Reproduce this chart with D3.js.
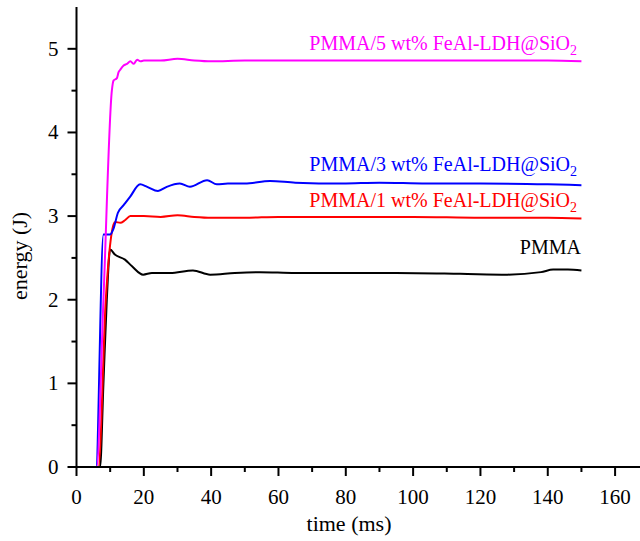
<!DOCTYPE html>
<html>
<head>
<meta charset="utf-8">
<script src="https://cdn.jsdelivr.net/npm/d3@7"></script>
<style>
  body { margin: 0; background: #fff; }
  text { font-family: "Liberation Serif", "DejaVu Serif", serif; }
</style>
</head>
<body>
<svg id="chart" width="640" height="541"></svg>
<script>
// values (time in ms, energy in J)
var pmmaT   = [0, 7, 8, 9, 10, 11.4, 14.4, 16.5, 19.8, 22.4, 27.8, 34.6, 39.7, 47, 54.5, 65, 79, 95, 114, 128, 138, 141.6, 146, 150];
var pmmaE   = [0, 0, 1.0, 2.0, 2.6, 2.54, 2.48, 2.4, 2.3, 2.32, 2.32, 2.35, 2.3, 2.32, 2.33, 2.32, 2.32, 2.32, 2.31, 2.3, 2.33, 2.36, 2.36, 2.35];

var pm1T    = [0, 6.5, 8.7, 11, 11.5, 13, 14.4, 16, 20, 25, 30, 35, 40, 50, 60, 80, 100, 120, 140, 150];
var pm1E    = [0, 0, 2.0, 2.9, 2.93, 2.92, 2.95, 3.0, 3.0, 2.99, 3.01, 2.99, 2.98, 2.98, 2.99, 2.99, 2.99, 2.98, 2.98, 2.97];

var pm3T    = [0, 5.8, 8, 10, 11, 12.3, 14, 15.9, 18.9, 21, 24.2, 26.8, 30.7, 33.7, 38.8, 41.7, 45, 50, 57.5, 65, 79, 90, 104, 120, 140, 150];
var pm3E    = [0, 0, 2.78, 2.78, 2.85, 3.04, 3.13, 3.23, 3.38, 3.35, 3.3, 3.35, 3.39, 3.35, 3.43, 3.38, 3.39, 3.39, 3.42, 3.4, 3.39, 3.4, 3.39, 3.39, 3.38, 3.37];

var pm5T    = [0, 6, 8, 10.5, 11, 12, 12.5, 13, 14, 15, 16, 17, 18, 19, 20, 25, 30, 35, 40, 50, 60, 80, 100, 120, 140, 150];
var pm5E    = [0, 0, 2.0, 4.5, 4.62, 4.65, 4.72, 4.75, 4.8, 4.82, 4.85, 4.82, 4.87, 4.85, 4.86, 4.86, 4.88, 4.86, 4.85, 4.86, 4.86, 4.86, 4.86, 4.86, 4.86, 4.85];

var seriesNames  = ["PMMA", "PMMA/1 wt% FeAl-LDH@SiO", "PMMA/3 wt% FeAl-LDH@SiO", "PMMA/5 wt% FeAl-LDH@SiO"];
var seriesColors = ["#000000", "#ff0000", "#0000ff", "#ff00ff"];
var xTicks = [0, 20, 40, 60, 80, 100, 120, 140, 160];
var yTicks = [0, 1, 2, 3, 4, 5];

var series = [
  {name: seriesNames[0], color: seriesColors[0], t: pmmaT, e: pmmaE, sub: false, labelE: 2.55},
  {name: seriesNames[1], color: seriesColors[1], t: pm1T, e: pm1E, sub: true, labelE: 3.11},
  {name: seriesNames[2], color: seriesColors[2], t: pm3T, e: pm3E, sub: true, labelE: 3.54},
  {name: seriesNames[3], color: seriesColors[3], t: pm5T, e: pm5E, sub: true, labelE: 4.98}
];

var FONT = '"Liberation Serif", "DejaVu Serif", serif';
var svg = d3.select('#chart');
var margin = {left: 76.5, top: 7};
var x = d3.scaleLinear().domain([0, 167.4]).range([margin.left, 640]);
var y = d3.scaleLinear().domain([0, 5.5]).range([467, margin.top]);

// lines first so the axes sit on top
var line = d3.line()
  .x(function(d) { return x(d[0]); })
  .y(function(d) { return y(d[1]); })
  .curve(d3.curveMonotoneX);

series.forEach(function(s) {
  var pts = s.t.map(function(t, i) { return [t, s.e[i]]; });
  svg.append('path')
    .datum(pts)
    .attr('fill', 'none')
    .attr('stroke', s.color)
    .attr('stroke-width', 2)
    .attr('stroke-linejoin', 'round')
    .attr('d', line);
});

// x axis with minor ticks
var xMinor = d3.range(10, 167, 20);
var gx = svg.append('g').attr('transform', 'translate(0,' + y(0) + ')');
gx.append('line').attr('x1', x(0) - 1).attr('x2', 640).attr('stroke', '#000').attr('stroke-width', 2);
gx.selectAll('.maj').data(xTicks).enter().append('line')
  .attr('x1', function(d) { return x(d); }).attr('x2', function(d) { return x(d); })
  .attr('y1', 0).attr('y2', 9).attr('stroke', '#000').attr('stroke-width', 2);
gx.selectAll('.min').data(xMinor).enter().append('line')
  .attr('x1', function(d) { return x(d); }).attr('x2', function(d) { return x(d); })
  .attr('y1', 0).attr('y2', 5).attr('stroke', '#000').attr('stroke-width', 2);
gx.selectAll('text').data(xTicks).enter().append('text')
  .attr('x', function(d) { return x(d); }).attr('y', 37)
  .attr('font-family', FONT)
  .attr('text-anchor', 'middle').attr('font-size', 21).text(function(d) { return d; });

// y axis with minor ticks
var yMinor = [0.5, 1.5, 2.5, 3.5, 4.5];
var gy = svg.append('g').attr('transform', 'translate(' + x(0) + ',0)');
gy.append('line').attr('y1', margin.top).attr('y2', y(0) + 1).attr('stroke', '#000').attr('stroke-width', 2);
gy.selectAll('.maj').data(yTicks).enter().append('line')
  .attr('y1', function(d) { return y(d); }).attr('y2', function(d) { return y(d); })
  .attr('x1', 0).attr('x2', -9).attr('stroke', '#000').attr('stroke-width', 2);
gy.selectAll('.min').data(yMinor).enter().append('line')
  .attr('y1', function(d) { return y(d); }).attr('y2', function(d) { return y(d); })
  .attr('x1', 0).attr('x2', -5).attr('stroke', '#000').attr('stroke-width', 2);
gy.selectAll('text').data(yTicks).enter().append('text')
  .attr('x', -18).attr('y', function(d) { return y(d) + 7; })
  .attr('font-family', FONT)
  .attr('text-anchor', 'end').attr('font-size', 21).text(function(d) { return d; });

// axis titles
svg.append('text').attr('x', 349).attr('y', 531).attr('text-anchor', 'middle')
  .attr('font-family', FONT).attr('font-size', 22).text('time (ms)');
svg.append('text').attr('transform', 'translate(27,256) rotate(-90)').attr('text-anchor', 'middle')
  .attr('font-family', FONT).attr('font-size', 22).text('energy (J)');

// series labels, right-aligned at the end of each curve
series.forEach(function(s) {
  var t = svg.append('text')
    .attr('x', s.sub ? 577 : 581)
    .attr('y', y(s.labelE))
    .attr('text-anchor', 'end')
    .attr('font-family', FONT)
    .attr('font-size', 20)
    .attr('fill', s.color);
  t.append('tspan').text(s.name);
  if (s.sub) {
    t.append('tspan').attr('font-size', 14).attr('dy', 5).text('2');
  }
});
</script>
</body>
</html>
